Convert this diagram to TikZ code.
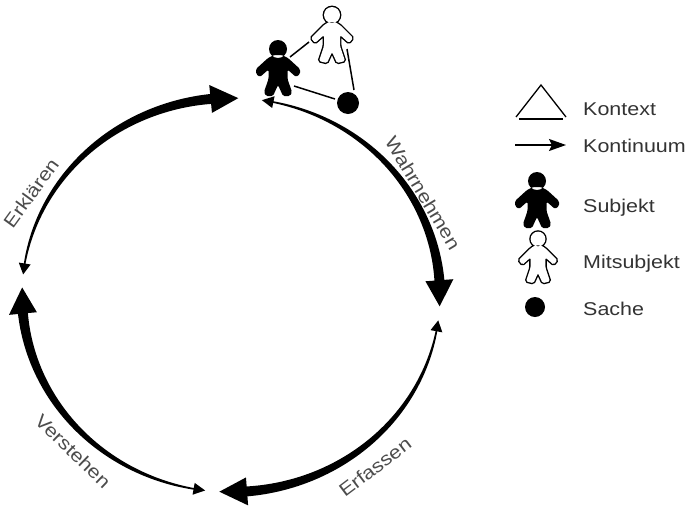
\documentclass[tikz,border=0pt]{standalone}
\usepackage{fontspec}
\usetikzlibrary{arrows.meta}
\newfontfamily\labfont[FakeStretch=1.16]{Liberation Sans}
\definecolor{labgray}{gray}{0.3}
\definecolor{leggray}{gray}{0.2}
\newcommand\taperarc[2]{%
  \pgfmathsetmacro\ta{#1-2.6}%
  \pgfmathsetmacro\tb{#2+7.0}%
  \pgfmathsetmacro\tc{#1-3.2}%
  \pgfmathsetmacro\td{#2+7.6}%
  \fill plot[domain=\ta:\tb, samples=60, variable=\t]
    ({231+(209+0.8+4.2*(\ta-\t)/(\ta-\tb))*cos(\t)}, {-295+(197+0.8+4.2*(\ta-\t)/(\ta-\tb))*sin(\t)})
    -- plot[domain=\tb:\ta, samples=60, variable=\t]
    ({231+(209-0.8-4.2*(\ta-\t)/(\ta-\tb))*cos(\t)}, {-295+(197-0.8-4.2*(\ta-\t)/(\ta-\tb))*sin(\t)})
    -- cycle;
  \fill ({231+209*cos(#1)},{-295+197*sin(#1)}) -- ({231+215*cos(\tc)},{-295+203*sin(\tc)})
    -- ({231+203*cos(\tc)},{-295+191*sin(\tc)}) -- cycle;
  \fill ({231+209*cos(#2)},{-295+197*sin(#2)}) -- ({231+223*cos(\td)},{-295+211*sin(\td)})
    -- ({231+195*cos(\td)},{-295+183*sin(\td)}) -- cycle;
}
\tikzset{
  personpath/.style={insert path={(0,0) circle (8)
     (3,-7) -- (8,-10) -- (21,-23) -- (17,-28) -- (8,-20) -- (8,-31) -- (13,-46) -- (5,-48) -- (0,-37)
     -- (-5,-48) -- (-13,-46) -- (-8,-31) -- (-8,-20) -- (-17,-28) -- (-21,-23) -- (-8,-10) -- (-3,-7) -- cycle}},
  boldpersonpath/.style={insert path={(0,-1) circle (9)
     (4,-7) -- (10,-10) -- (22,-21) -- (22,-26) -- (18,-29) -- (9.5,-21.5) -- (9.5,-31) -- (14,-44) -- (12,-48)
     -- (5,-48) -- (0,-37) -- (-5,-48) -- (-12,-48) -- (-14,-44) -- (-9.5,-31) -- (-9.5,-21.5) -- (-18,-29)
     -- (-22,-26) -- (-22,-21) -- (-10,-10) -- (-4,-7) -- cycle}},
  blackperson/.pic={\path[fill=black, rounded corners=1.5, boldpersonpath];},
  whiteperson/.pic={\path[draw=black, line width=2.8, rounded corners=1.5, personpath];
                    \path[fill=white, rounded corners=1.5, personpath];},
  arclabel/.style={font=\labfont\fontsize{18.5}{20}\selectfont, text=labgray, inner sep=0pt},
  legtext/.style={font=\labfont\fontsize{18.5}{20}\selectfont, text=leggray, inner sep=0pt, anchor=base west},
  tie/.style={line width=1.5pt},
}
\begin{document}
\begin{tikzpicture}[x=1pt,y=1pt]
\useasboundingbox[fill=white] (0,0) rectangle (690,-507);

% cycle arcs
\taperarc{174}{88}
\taperarc{81.5}{-3.3}
\taperarc{-7.4}{-93.2}
\taperarc{262.9}{177.8}

\node[arclabel, rotate=54] (erk) at (31,-193) {Erklären};
\node[arclabel, rotate=-59] (wahr) at (423,-193) {Wahrnehmen};
\node[arclabel, rotate=37] (erf) at (375,-467) {Erfassen};
\node[arclabel, rotate=-44] (ver) at (73,-451) {Verstehen};

% top cluster
\pic (subj) at (278,-48) {blackperson};
\pic (mit) at (332,-15) {whiteperson};
\node[circle, fill=black, minimum size=22pt, inner sep=0pt] (sache) at (348,-103) {};
\coordinate (subjA) at (290,-57);
\coordinate (mitA) at (309,-42);
\coordinate (mitB) at (347,-49);
\coordinate (sacheA) at (354,-90);
\coordinate (subjB) at (294,-86);
\coordinate (sacheB) at (335,-99);
\draw[tie] (subjA) -- (mitA);
\draw[tie] (mitB) -- (sacheA);
\draw[tie] (subjB) -- (sacheB);

% legend
\coordinate (triL) at (516,-117);
\coordinate (triT) at (541,-85);
\coordinate (triR) at (566,-117);
\draw[line width=1.3pt, line join=miter] (triL) -- (triT) -- (triR);
\draw[line width=2pt] (519,-119) -- (563,-119);
\node[legtext] (kontext) at (583,-115) {Kontext};

\coordinate (arrL) at (515,-145);
\coordinate (arrR) at (566,-145);
\draw[line width=1.4pt, -{Stealth[length=17pt, width=12pt, inset=3pt]}] (arrL) -- (arrR);
\node[legtext] (kontinuum) at (583,-152) {Kontinuum};

\pic (lsubj) at (537,-180) {blackperson};
\node[legtext] (subjekt) at (583,-212) {Subjekt};

\pic[scale=0.92] (lmit) at (538,-239) {whiteperson};
\node[legtext] (mitsubjekt) at (583,-268) {Mitsubjekt};

\node[circle, fill=black, minimum size=20pt, inner sep=0pt] (lsache) at (535,-307) {};
\node[legtext] (sachetext) at (583,-315) {Sache};
\end{tikzpicture}
\end{document}
